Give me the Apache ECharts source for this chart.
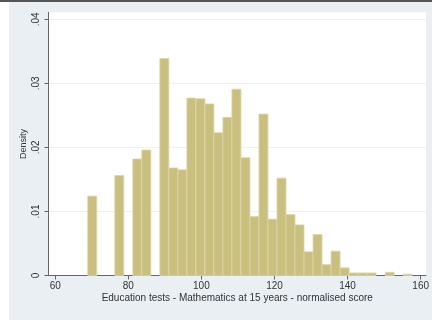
<!DOCTYPE html>
<html>
<head>
<meta charset="utf-8">
<script src="https://cdn.jsdelivr.net/npm/echarts@6/dist/echarts.min.js"></script>
<style>
  html, body { margin: 0; padding: 0; background: #ffffff; }
  #chart { width: 432px; height: 320px; }
</style>
</head>
<body>
<div id="chart"></div>
<script>
// Histogram of normalised mathematics scores at age 15 (density scale)
const binStart = 68.9;     // lower edge of the first bin
const binWidth = 2.466;    // width of every bin
const densities = [
  0.0124, 0, 0, 0.0156, 0, 0.0182, 0.0196, 0, 0.0339, 0.0168,
  0.0165, 0.0277, 0.0276, 0.0268, 0.0223, 0.0247, 0.0291, 0.0184, 0.0092, 0.0252,
  0.0088, 0.0152, 0.0095, 0.0079, 0.0037, 0.0064, 0.0017, 0.0038, 0.0012, 0.0004,
  0.0004, 0.0004, 0, 0.0005, 0, 0.0002
];
const xTicks = [60, 80, 100, 120, 140, 160];
const yTicks = [0, 0.01, 0.02, 0.03, 0.04];
const xTitle = 'Education tests - Mathematics at 15 years - normalised score';
const yTitle = 'Density';

// [low edge, high edge, density] for each non-empty bin
const bins = [];
densities.forEach(function (d, i) {
  if (d > 0) bins.push([binStart + i * binWidth, binStart + (i + 1) * binWidth, d]);
});

const font = 'Liberation Sans, Arial, sans-serif';
const chart = echarts.init(document.getElementById('chart'), null, { renderer: 'canvas' });

chart.setOption({
  backgroundColor: '#ffffff',
  animation: false,
  graphic: [
    { type: 'rect', z: -20, shape: { x: 9, y: 2, width: 423, height: 318 }, style: { fill: '#e9eff3' } },
    { type: 'rect', z: -20, shape: { x: 0, y: 0, width: 432, height: 2 }, style: { fill: '#555555' } }
  ],
  grid: {
    left: 48.5, right: 1.3, top: 12.3, bottom: 44.5,
    show: true, backgroundColor: '#ffffff', borderWidth: 0
  },
  xAxis: {
    type: 'value',
    min: 58.16, max: 161.46,
    name: xTitle,
    nameLocation: 'middle',
    nameGap: 18,
    nameMoveOverlap: false,
    nameTextStyle: { fontFamily: font, fontSize: 10, color: '#333' },
    axisLine: { show: true, onZero: false, lineStyle: { color: '#666', width: 1 } },
    axisTick: { show: true, length: 4, customValues: xTicks, lineStyle: { color: '#666' } },
    axisLabel: { customValues: xTicks, margin: 6, fontFamily: font, fontSize: 10, color: '#333' },
    splitLine: { show: false }
  },
  yAxis: {
    type: 'value',
    min: 0, max: 0.0411,
    name: yTitle,
    nameLocation: 'middle',
    nameRotate: 90,
    nameGap: 20,
    nameMoveOverlap: false,
    nameTextStyle: { fontFamily: font, fontSize: 9, color: '#333' },
    axisLine: { show: true, lineStyle: { color: '#666', width: 1 } },
    axisTick: { show: true, length: 4, customValues: yTicks, lineStyle: { color: '#666' } },
    axisLabel: {
      customValues: yTicks,
      rotate: 90,
      margin: 7,
      fontFamily: font, fontSize: 10, color: '#333',
      formatter: function (v) { return v === 0 ? '0' : String(v).replace(/^0/, ''); }
    },
    splitLine: { show: true, lineStyle: { color: '#edf3f5', width: 1 } }
  },
  series: [{
    type: 'custom',
    data: bins,
    renderItem: function (params, api) {
      const p0 = api.coord([api.value(0), api.value(2)]);
      const p1 = api.coord([api.value(1), 0]);
      return {
        type: 'rect',
        shape: { x: p0[0], y: p0[1], width: p1[0] - p0[0], height: p1[1] - p0[1] },
        style: { fill: '#c9c07f', stroke: '#ddd7a8', lineWidth: 0.8 }
      };
    }
  }]
});
</script>
</body>
</html>
